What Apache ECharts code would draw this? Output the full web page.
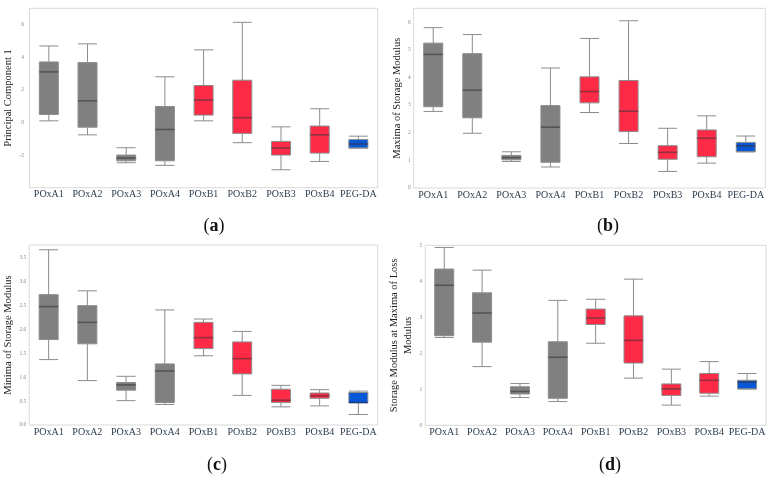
<!DOCTYPE html>
<html>
<head>
<meta charset="utf-8">
<script src="https://cdn.jsdelivr.net/npm/echarts@6/dist/echarts.min.js"></script>
<style>
html,body{margin:0;padding:0;background:#fff;}
#c{width:773px;height:479px;}
</style>
</head>
<body>
<div id="c"></div>
<script>
// categories
const categories = ['POxA1','POxA2','POxA3','POxA4','POxB1','POxB2','POxB3','POxB4','PEG-DA'];
const groups = ['A','A','A','A','B','B','B','B','P'];

// [lower whisker, Q1, median, Q3, upper whisker]
const pc1 = [
  [0.10, 0.49, 3.10, 3.71, 4.69],
  [-0.76, -0.29, 1.33, 3.67, 4.82],
  [-2.47, -2.35, -2.18, -2.00, -1.55],
  [-2.63, -2.35, -0.43, 0.98, 2.80],
  [0.10, 0.45, 1.37, 2.27, 4.45],
  [-1.24, -0.67, 0.29, 2.59, 6.14],
  [-2.90, -2.00, -1.57, -1.16, -0.27],
  [-2.39, -1.88, -0.76, -0.22, 0.84],
  [-1.57, -1.57, -1.32, -1.05, -0.84]
];
const maxSM = [
  [2.77, 2.94, 4.83, 5.24, 5.80],
  [1.98, 2.54, 3.54, 4.86, 5.55],
  [0.96, 1.02, 1.10, 1.18, 1.31],
  [0.76, 0.93, 2.20, 2.98, 4.34],
  [2.73, 3.08, 3.49, 4.02, 5.41],
  [1.61, 2.04, 2.78, 3.89, 6.05],
  [0.60, 1.04, 1.29, 1.53, 2.16],
  [0.90, 1.13, 1.80, 2.10, 2.61],
  [1.31, 1.31, 1.52, 1.65, 1.88]
];
const minSM = [
  [1.37, 1.79, 2.48, 2.73, 3.67],
  [0.93, 1.70, 2.15, 2.50, 2.81],
  [0.51, 0.73, 0.84, 0.89, 1.02],
  [0.43, 0.47, 1.13, 1.28, 2.41],
  [1.45, 1.60, 1.83, 2.15, 2.22],
  [0.62, 1.07, 1.39, 1.74, 1.96],
  [0.38, 0.47, 0.52, 0.75, 0.83],
  [0.40, 0.56, 0.61, 0.67, 0.74],
  [0.22, 0.47, 0.47, 0.68, 0.71]
];
const smAtLossMax = [
  [2.44, 2.49, 3.89, 4.34, 4.94],
  [1.63, 2.31, 3.12, 3.68, 4.31],
  [0.77, 0.87, 0.94, 1.07, 1.16],
  [0.66, 0.75, 1.89, 2.32, 3.47],
  [2.28, 2.80, 2.98, 3.23, 3.50],
  [1.31, 1.73, 2.36, 3.04, 4.06],
  [0.56, 0.83, 1.01, 1.15, 1.56],
  [0.81, 0.89, 1.25, 1.44, 1.77],
  [1.01, 1.01, 1.20, 1.25, 1.44]
];
const panelLetters = ['a','b','c','d'];
const yNames = ['Principal Component 1','Maxima of Storage Modulus','Minima of Storage Modulus','Storage Modulus at Maxima of Loss\nModulus'];

const fillColors = {A:'#808080', B:'#ff2a46', P:'#0656d8'};
const medianColors = {A:'#474747', B:'#8f1b2c', P:'#0c2c6c'};

const SERIF = '"Liberation Serif","DejaVu Serif",serif';

const datasets = [pc1, maxSM, minSM, smAtLossMax];
const grids = [
  {left:27.7, top:8.3, width:350, height:179.4},
  {left:413.7, top:8.3, width:351.6, height:179.7},
  {left:27.7, top:245, width:350, height:180},
  {left:425.3, top:245.3, width:340.7, height:180}
];
const yCfg = [
  {min:-4, max:7, interval:2, showMinLabel:false, showMaxLabel:false, gap:6, margin:5.5, fmt:null},
  {min:0, max:6.5, interval:1, showMinLabel:true, showMaxLabel:false, gap:5, margin:3, fmt:null},
  {min:0, max:3.77, interval:0.5, showMinLabel:true, showMaxLabel:false, gap:8, margin:3, fmt:v=>v.toFixed(1)},
  {min:0, max:5, interval:1, showMinLabel:true, showMaxLabel:true, gap:0, margin:3, fmt:null}
];

const option = {
  animation:false,
  backgroundColor:'#fff',
  grid: grids.map(g=>Object.assign({show:true, borderColor:'#d9d9d9', borderWidth:1, backgroundColor:'#fff', containLabel:false}, g)),
  xAxis: grids.map((g,i)=>({
    type:'category', gridIndex:i, data:categories,
    axisLine:{show:false}, axisTick:{show:false}, splitLine:{show:false},
    axisLabel:{color:'#2c3d4e', fontFamily:SERIF, fontSize:10, margin:2, interval:0}
  })),
  yAxis: yCfg.map((c,i)=>({
    type:'value', gridIndex:i, min:c.min, max:c.max, interval:c.interval,
    name:yNames[i], nameLocation:'middle', nameGap:c.gap, nameRotate:90,
    nameTextStyle:{fontFamily:SERIF, fontSize:10.5, color:'#222', lineHeight:14.5},
    axisLine:{show:false}, axisTick:{show:false}, splitLine:{show:false},
    axisLabel:{color:'#8a8a8a', fontSize:5.5, fontFamily:SERIF, margin:c.margin,
      showMinLabel:c.showMinLabel, showMaxLabel:c.showMaxLabel,
      formatter: c.fmt || (v=>String(v))}
  })),
  title: panelLetters.map((L,i)=>({
    text:'{p|(}{b|'+L+'}{p|)}',
    left: [209,603,212,605][i], top:[221,221,460,460][i],
    textAlign:'center', textVerticalAlign:'middle',
    textStyle:{rich:{
      p:{fontFamily:SERIF, fontSize:18, color:'#111', fontWeight:'normal'},
      b:{fontFamily:SERIF, fontSize:18, color:'#111', fontWeight:'bold'}
    }}
  })),
  series: []
};

datasets.forEach((ds,i)=>{
  option.series.push({
    type:'boxplot', xAxisIndex:i, yAxisIndex:i,
    boxWidth:[19,19],
    data: ds.map((d,k)=>({
      value:d,
      itemStyle:{color:fillColors[groups[k]], borderColor:'#8c8c8c', borderWidth:1}
    }))
  });
  option.series.push({
    type:'scatter', xAxisIndex:i, yAxisIndex:i,
    symbol:'rect', symbolSize:[19,1.6], silent:true, z:5,
    data: ds.map((d,k)=>({value:[k, d[2]], itemStyle:{color:medianColors[groups[k]]}}))
  });
});

const chart = echarts.init(document.getElementById('c'), null, {renderer:'canvas'});
chart.setOption(option);
</script>
</body>
</html>
